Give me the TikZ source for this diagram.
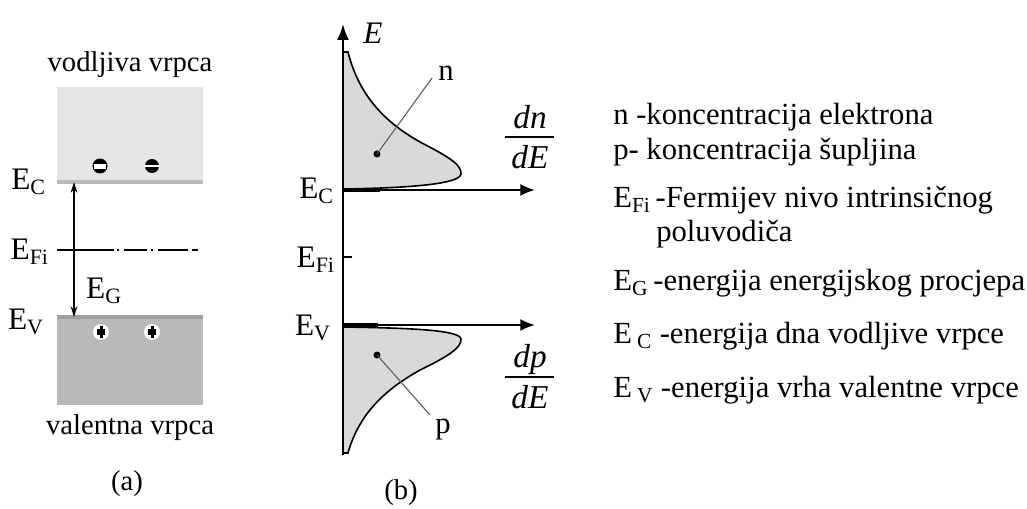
\documentclass[tikz,border=0pt]{standalone}
\usepackage{fontspec}
\setmainfont{Liberation Serif}
\usetikzlibrary{arrows.meta}
\newcommand{\lbl}[2]{#1\textsubscript{#2}}
\begin{document}
\begin{tikzpicture}[x=0.75pt,y=-0.75pt,
  txt/.style={inner sep=0pt,font=\fontsize{21.5}{25}\selectfont},
  leg/.style={inner sep=0pt,anchor=west,font=\fontsize{23}{27}\selectfont},
  elab/.style={inner sep=0pt,font=\fontsize{23.5}{27}\selectfont},
  frac/.style={inner sep=0pt,font=\fontsize{25}{29}\selectfont\itshape},
  axisline/.style={line width=1.5pt,-{Latex[length=11pt,width=9pt]}},
  curve/.style={line width=1.2pt,fill=gray!30},
  pointer/.style={draw=gray!70!black,line width=0.8pt}]
\useasboundingbox (0,0) rectangle (1027,509);
% ---------------- panel (a)
\node[txt] (vod) at (130,65) {vodljiva vrpca};
\fill[gray!20] (57,87) rectangle (203,183);
\fill[gray!55] (57,180) rectangle (203,184);
\fill[gray!55] (57,315) rectangle (203,405);
\fill[gray!75] (57,315) rectangle (203,319);
\coordinate (ec) at (74,182);
\coordinate (ev) at (74,317);
% electrons
\fill[black] (100,166) circle (7.5);
\fill[white] (94,164) rectangle (106,169);
\fill[black] (152,166) circle (7);
\fill[white] (144,165.2) rectangle (160,167);
% holes
\fill[white] (101,332) circle (8);
\fill[black] (97,329) rectangle (105,335);
\fill[black] (99.5,326) rectangle (102.5,338);
\fill[white] (152,332) circle (8);
\fill[black] (148,329) rectangle (156,335);
\fill[black] (150.5,326) rectangle (153.5,338);
% EFi line
\coordinate (fiA) at (57,250);
\coordinate (fiB) at (198,250);
\draw[line width=1.2pt,dash pattern=on 43 off 2 on 1.5 off 4 on 17 off 3 on 1.5 off 4 on 22 off 3 on 40] (fiA) -- (fiB);
\draw[line width=1.5pt,{Stealth[length=8pt,width=5pt]}-{Stealth[length=8pt,width=5pt]}] (ec) -- (ev);
\node[elab,anchor=east] (ECa) at (46,182) {\lbl{E}{C}};
\node[elab,anchor=east] (EFa) at (49,252) {\lbl{E}{Fi}};
\node[elab,anchor=east] (EVa) at (44,322) {\lbl{E}{V}};
\node[elab] (EGa) at (104,291) {\lbl{E}{G}};
\node[txt] (val) at (130,428) {valentna vrpca};
\node[txt] (pa) at (127,484) {(a)};
% ---------------- panel (b)
\coordinate (ax0) at (343,455);
\coordinate (axT) at (343,24);
% n curve
\draw[curve] (343,52) -- (348,52) .. controls (360,100) and (390,125) .. (420,142)
  .. controls (445,155) and (462,164) .. (461,174)
  .. controls (460,184) and (410,188) .. (343,189) -- cycle;
\draw[curve] (343,326) -- (343,327) .. controls (410,328) and (460,330) .. (461,339)
  .. controls (462,348) and (445,358) .. (420,370)
  .. controls (390,387) and (360,410) .. (348,453) -- (343,453) -- cycle;
\draw[line width=1.5pt,-{Latex[length=12pt,width=9pt]}] (ax0) -- (axT);
\node[elab,font=\fontsize{23.5}{27}\selectfont\itshape] (Eb) at (373,33) {E};
\coordinate (ecb) at (343,190);
\coordinate (evb) at (343,325);
\coordinate (ecE) at (535,190);
\coordinate (evE) at (535,325);
\draw[axisline] (ecb) -- (ecE);
\draw[axisline] (evb) -- (evE);
\draw[line width=3pt] (343,190) -- (380,190);
\draw[line width=3pt] (343,325) -- (378,325);
\coordinate (tick) at (352,257);
\draw[line width=1.2pt] (343,257) -- (tick);
% pointers
\fill (377,154) circle (3.5);
\coordinate (ndot) at (377,154);
\node[txt,font=\fontsize{23}{27}\selectfont] (n) at (446,73) {n};
\draw[pointer] (ndot) -- (432,78);
\fill (377,355) circle (3.5);
\coordinate (pdot) at (377,355);
\node[txt,font=\fontsize{23}{27}\selectfont] (p) at (443,430) {p};
\draw[pointer] (pdot) -- (430,415);
% fractions
\node[frac] (dn) at (530,117) {dn};
\node[frac] (dE1) at (530,157) {dE};
\draw[line width=0.9pt] (505,137) -- (554,137);
\node[frac] (dp) at (530,359) {dp};
\node[frac] (dE2) at (530,397) {dE};
\draw[line width=0.9pt] (505,377) -- (554,377);
\node[elab,anchor=east] (ECb) at (334,191) {\lbl{E}{C}};
\node[elab,anchor=east] (EFb) at (335,260) {\lbl{E}{Fi}};
\node[elab,anchor=east] (EVb) at (331,328) {\lbl{E}{V}};
\node[txt] (pb) at (401,493) {(b)};
% ---------------- legend
\node[leg] (l1) at (613,117) {n -koncentracija elektrona};
\node[leg] (l2) at (613,152) {p- koncentracija šupljina};
\node[leg] (l3) at (613,200) {\lbl{E}{Fi}\,-Fermijev nivo intrinsičnog};
\node[leg] (l3b) at (656,234) {poluvodiča};
\node[leg] (l4) at (613,283) {\lbl{E}{G}\,-energija energijskog procjepa};
\node[leg] (l5) at (613,336) {E\,\textsubscript{C} -energija dna vodljive vrpce};
\node[leg] (l6) at (613,390) {E\,\textsubscript{V} -energija vrha valentne vrpce};
\end{tikzpicture}
\end{document}
